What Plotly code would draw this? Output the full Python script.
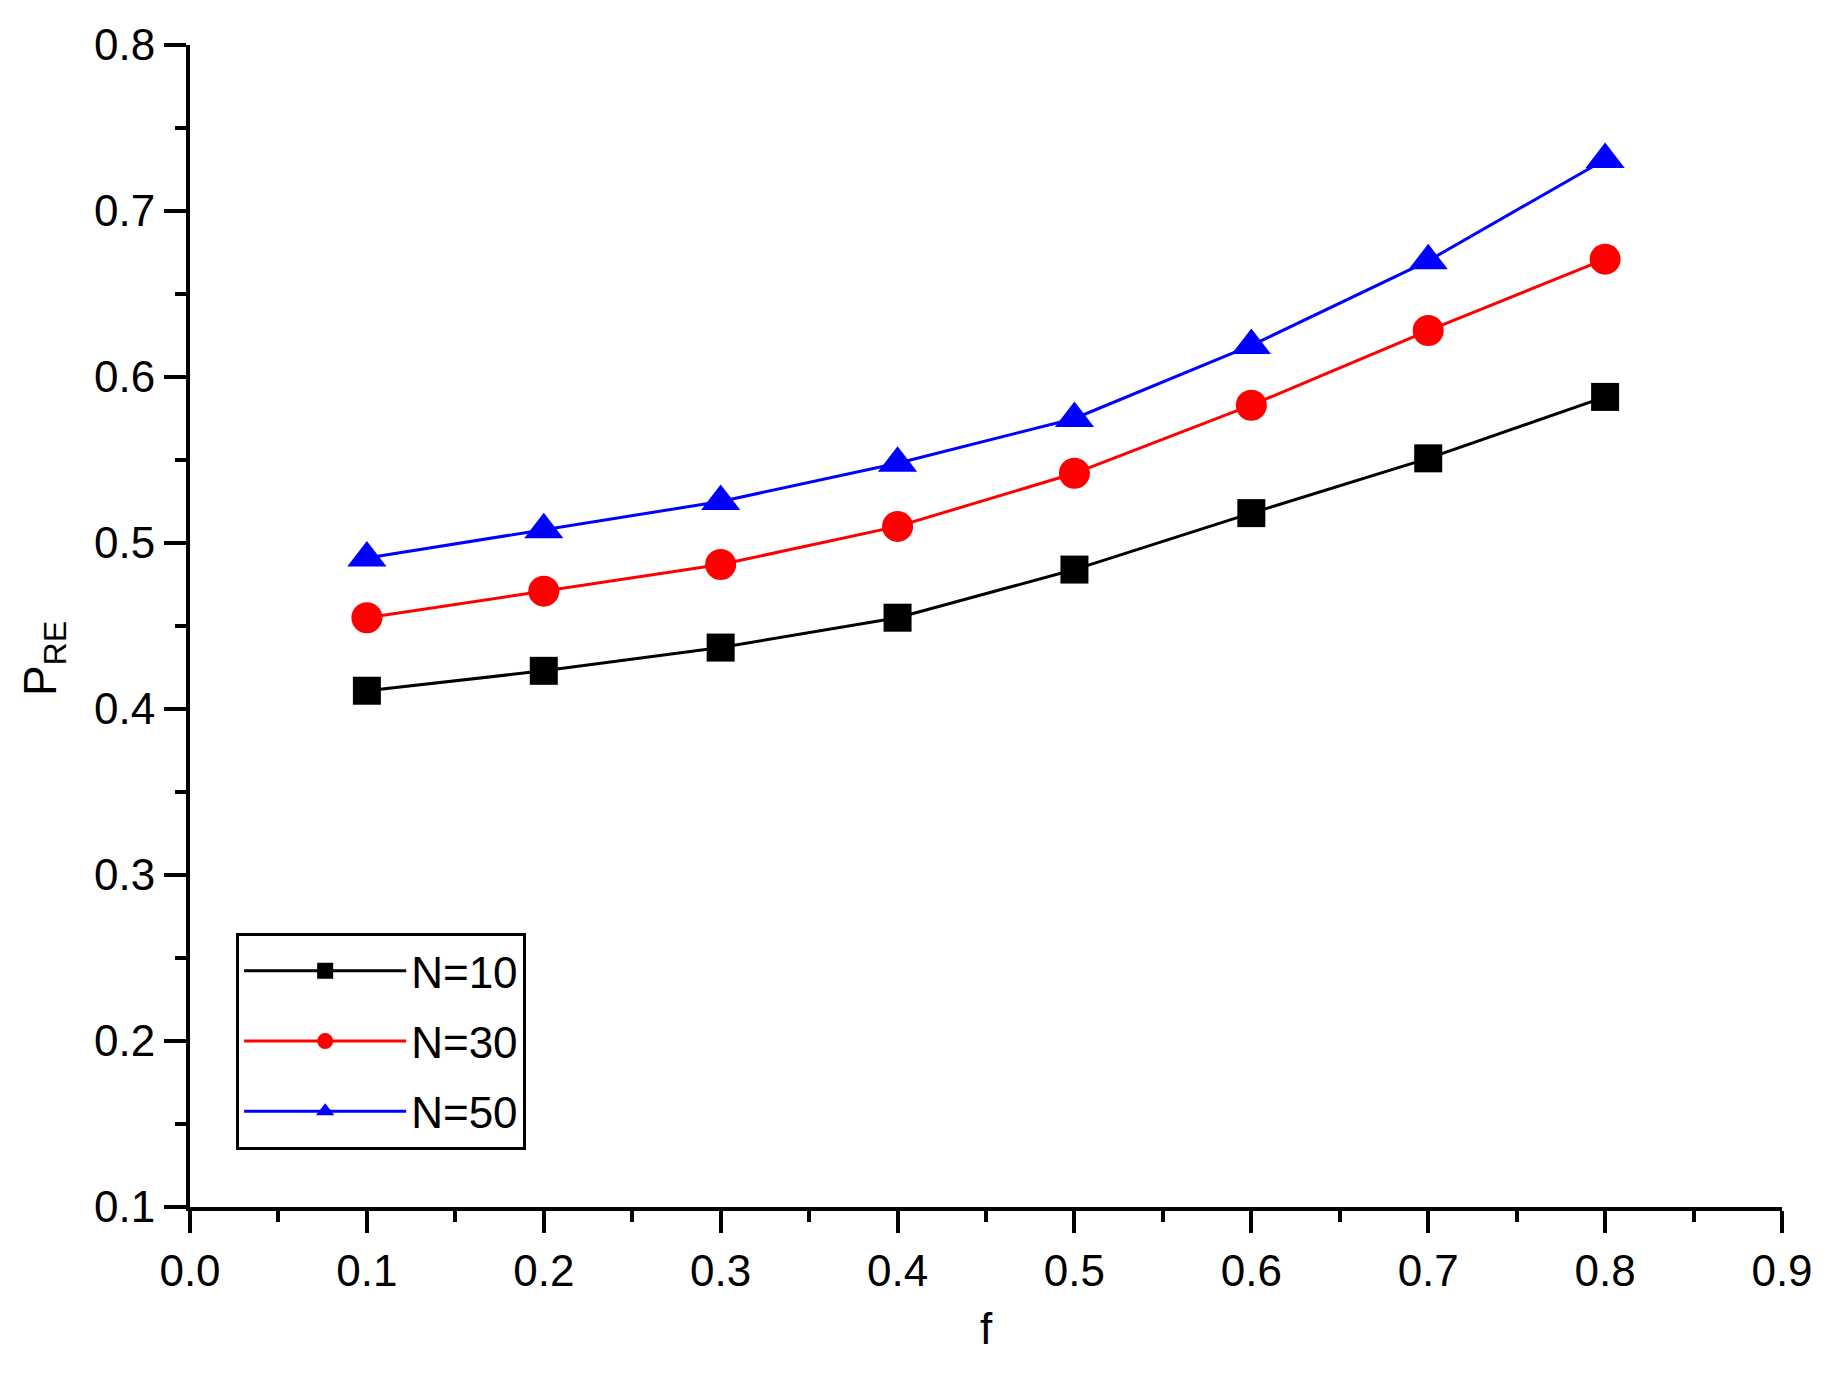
import plotly.graph_objects as go

# values
f_values = [0.1, 0.2, 0.3, 0.4, 0.5, 0.6, 0.7, 0.8]
p_n10 = [0.411, 0.423, 0.437, 0.455, 0.484, 0.518, 0.551, 0.588]
p_n30 = [0.455, 0.471, 0.487, 0.510, 0.542, 0.583, 0.628, 0.671]
p_n50 = [0.491, 0.508, 0.525, 0.548, 0.575, 0.619, 0.670, 0.731]
series_names = ["N=10", "N=30", "N=50"]

FONT = "Arial, Liberation Sans, sans-serif"

styles = [
    dict(color="black", symbol="square", size=28),
    dict(color="red", symbol="circle", size=31),
    dict(color="blue", symbol="triangle-up", size=34),
]

fig = go.Figure()
for name, ys, st in zip(series_names, [p_n10, p_n30, p_n50], styles):
    fig.add_trace(go.Scatter(
        x=f_values, y=ys, mode="lines+markers", name=name, legendgroup=name,
        line=dict(color=st["color"], width=3),
        marker=dict(symbol=st["symbol"], size=st["size"], color=st["color"],
                    line=dict(width=0)),
    ))

minor_ticks = dict(dtick=0.05, ticks="outside", ticklen=11, tickwidth=4, tickcolor="black")
axis_common = dict(
    showline=True, linecolor="black", linewidth=4, mirror=False,
    ticks="outside", ticklen=22, tickwidth=4, tickcolor="black",
    showgrid=False, zeroline=False,
    tickfont=dict(family=FONT, size=44, color="black"),
)

# the page body adds an 8px margin, so the figure is sized to fit inside it
fig.update_layout(
    width=1817, height=1363,
    margin=dict(l=182, r=42, t=30, b=164),
    paper_bgcolor="white", plot_bgcolor="white",
    font=dict(family=FONT, color="black"),
    xaxis=dict(
        range=[0.0, 0.9], tick0=0, dtick=0.1, tickformat=".1f",
        title=dict(text="f", font=dict(family=FONT, size=44), standoff=20),
        minor=minor_ticks,
        **axis_common,
    ),
    yaxis=dict(
        range=[0.1, 0.8], tick0=0.1, dtick=0.1, tickformat=".1f",
        minor=minor_ticks,
        **axis_common,
    ),
    legend=dict(
        x=0.029, y=0.236, xanchor="left", yanchor="top",
        bgcolor="white", bordercolor="black", borderwidth=3,
        font=dict(family=FONT, size=44, color="black"),
        tracegroupgap=10, itemwidth=162,
    ),
    showlegend=True,
)

# y title as an annotation so it can sit a little below the axis centre
fig.add_annotation(
    text="P<sub>RE</sub>", xref="paper", yref="paper",
    x=-0.092, y=0.472, xanchor="center", yanchor="middle",
    textangle=-90, showarrow=False,
    font=dict(family=FONT, size=46, color="black"),
)

fig.write_html("out.html")
